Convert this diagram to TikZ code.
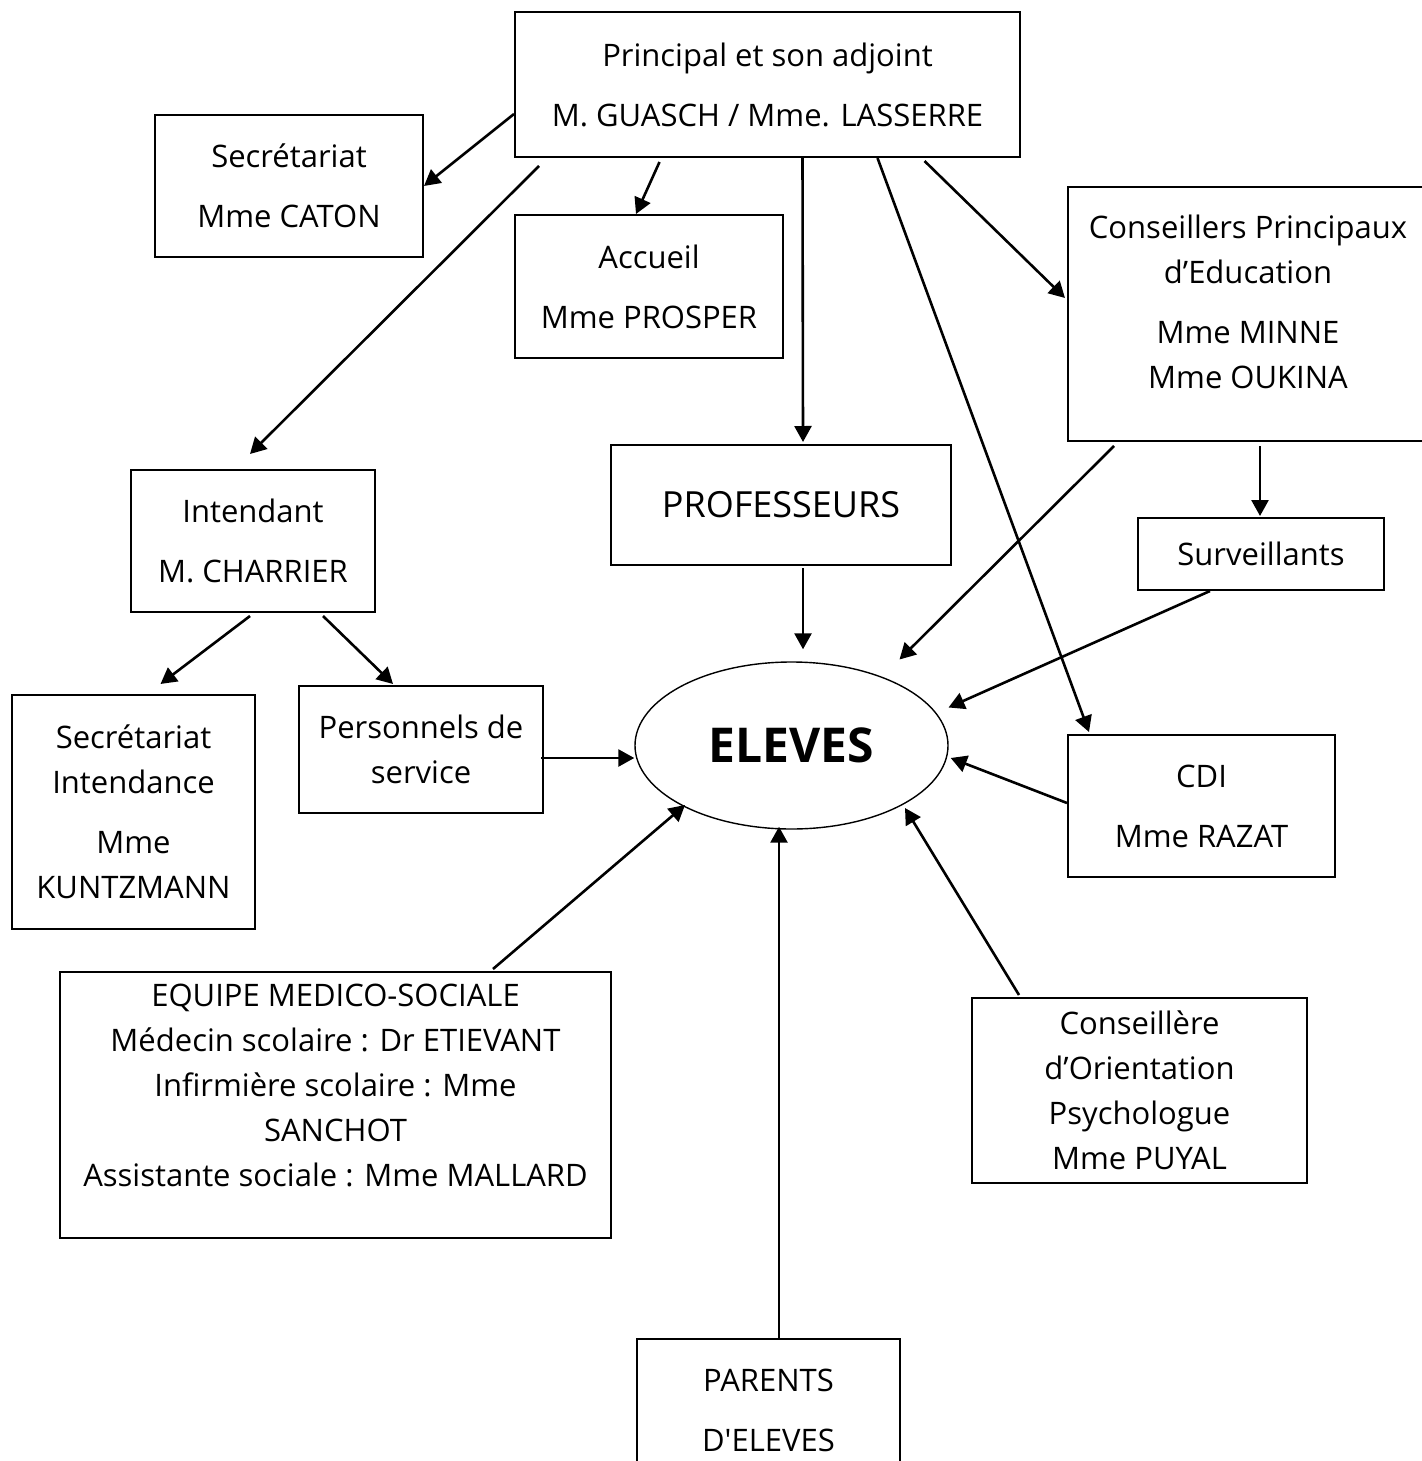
\documentclass[tikz,border=0pt]{standalone}
\usepackage{fontspec}
\setmainfont{Open Sans}
\usetikzlibrary{arrows.meta,calc,shapes.geometric}
\tikzset{
  boite/.style={draw, line width=1pt, align=center, inner sep=0pt,
    font=\fontsize{15.5}{22.5}\selectfont},
  fleche/.style={-{Triangle[length=8pt,width=8.5pt]}, line width=1.3pt},
}
\begin{document}
\begin{tikzpicture}[x=0.5pt,y=-0.5pt]
  \useasboundingbox (0,0) rectangle (1421,1461);
  % les cadres
  \node[boite, minimum width=252.5pt, minimum height=72.5pt] (principal) at (767.5,84.5)
    {Principal et son adjoint\\[7.5pt] M. GUASCH / Mme. LASSERRE};
  \node[boite, minimum width=134pt, minimum height=71pt] (secretariat) at (289,186)
    {Secrétariat\\[7.5pt] Mme CATON};
  \node[boite, minimum width=134pt, minimum height=71.5pt] (accueil) at (649,286.5)
    {Accueil\\[7.5pt] Mme PROSPER};
  \node[boite, minimum width=180pt, minimum height=127pt, text depth=12pt] (cpe) at (1248,314)
    {Conseillers Principaux\\ d’Education\\[7.5pt] Mme MINNE\\ Mme OUKINA};
  \node[boite, minimum width=122pt, minimum height=71pt] (intendant) at (253,541)
    {Intendant\\[7.5pt] M. CHARRIER};
  \node[boite, minimum width=170pt, minimum height=60pt, font=\fontsize{18}{22}\selectfont] (profs) at (781,505)
    {PROFESSEURS};
  \node[boite, minimum width=123pt, minimum height=36pt] (surveillants) at (1261,554)
    {Surveillants};
  \node[draw, ellipse, line width=0.7pt, minimum width=156.5pt, minimum height=83.5pt, inner sep=0pt,
    font=\bfseries\fontsize{24}{28}\selectfont] (eleves) at (791.5,745.5) {ELEVES};
  \node[boite, minimum width=121.5pt, minimum height=117pt] (secint) at (133.5,812)
    {Secrétariat\\ Intendance\\[7.5pt] Mme\\ KUNTZMANN};
  \node[boite, minimum width=122pt, minimum height=63.5pt] (personnels) at (421,749.5)
    {Personnels de\\ service};
  \node[boite, minimum width=133.5pt, minimum height=71pt] (cdi) at (1201.5,806)
    {CDI\\[7.5pt] Mme RAZAT};
  \node[boite, minimum width=275.5pt, minimum height=133pt, text depth=20pt] (equipe) at (335.5,1105)
    {EQUIPE MEDICO-SOCIALE\\ Médecin scolaire : Dr ETIEVANT\\ Infirmière scolaire : Mme\\ SANCHOT\\
     Assistante sociale : Mme MALLARD};
  \node[boite, minimum width=167.5pt, minimum height=92.5pt] (conseillere) at (1139.5,1090.5)
    {Conseillère\\ d’Orientation\\ Psychologue\\ Mme PUYAL};
  \node[boite, minimum width=131.5pt, minimum height=71pt] (parents) at (768.5,1410)
    {PARENTS\\[7.5pt] D\textquotesingle ELEVES};
  % les fleches depuis la direction
  \draw[fleche] ($(principal.south west)+(0,-44)$) -- (secretariat.east);
  \draw[fleche] ($(principal.south)+(-108,4)$) -- ($(accueil.north)+(-13,0)$);
  \draw[fleche] ($(principal.south west)+(25,8)$) -- ($(intendant.north)+(-3,-15)$);
  \draw[fleche] ($(principal.south)+(35,0)$) -- ($(profs.north)+(22,-2)$);
  \draw[fleche] ($(principal.south)+(110,0)$) -- ($(cdi.north west)+(22,-2)$);
  \draw[fleche] ($(principal.south)+(157,3)$) -- ($(cpe.west)+(-2,-16)$);
  % vie scolaire
  \draw[fleche] ($(cpe.south)+(12,4)$) -- ($(surveillants.north)+(-1,-1)$);
  \draw[fleche] ($(cpe.south west)+(47,4)$) -- ($(eleves.center)+(108,-86)$);
  \draw[fleche] ($(surveillants.south)+(-51,0)$) -- ($(eleves.center)+(157,-38)$);
  \draw[fleche] ($(profs.south)+(22,2)$) -- ($(eleves.north)+(11.5,-12)$);
  % intendance
  \draw[fleche] ($(intendant.south)+(-3,3)$) -- ($(secint.north)+(27,-10)$);
  \draw[fleche] ($(intendant.south)+(70,3)$) -- ($(personnels.north)+(-28,-1)$);
  \draw[fleche] ($(personnels.east)+(-3,8.5)$) -- ($(eleves.west)+(0,12.5)$);
  % vers les eleves
  \draw[fleche] ($(cdi.west)+(0,-3)$) -- ($(eleves.east)+(2,12.5)$);
  \draw[fleche] ($(equipe.north)+(157.5,-2)$) -- ($(eleves.center)+(-106.5,59.5)$);
  \draw[fleche] ($(conseillere.north west)+(48,-2)$) -- ($(eleves.center)+(113.5,62.5)$);
  \draw[fleche] ($(parents.north)+(10.5,1)$) -- ($(eleves.south)+(-12.5,-3)$);
\end{tikzpicture}
\end{document}
